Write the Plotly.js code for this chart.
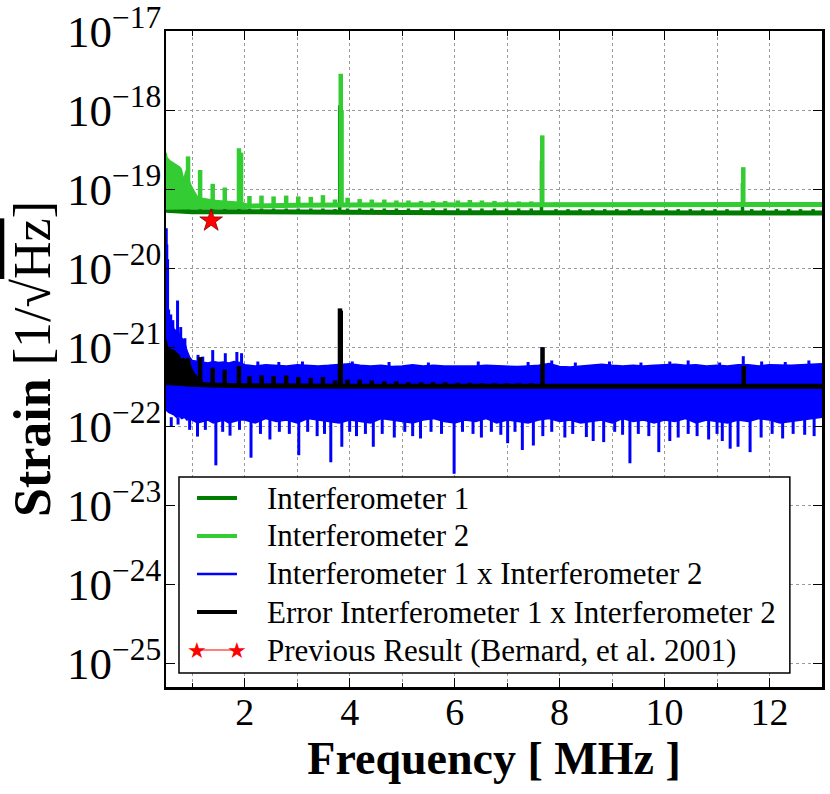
<!DOCTYPE html>
<html><head><meta charset="utf-8">
<script src="https://cdn.plot.ly/plotly-3.0.1.min.js"></script>
<style>html,body{margin:0;padding:0;background:#fff}</style>
</head><body><div id="chart" style="width:830px;height:794px"></div>
<script>
// ---------------- data ----------------
const combMHz = [0.92,1.15,1.39,1.62,1.89,2.09,2.32,2.55,2.79,3.02,3.26,3.49,3.72,3.96,4.19,4.42,4.66,4.89,5.12,5.36,5.59,5.82,6.06,6.29,6.52,6.76,6.99,7.22,7.46,7.93,8.16,8.39,8.63,8.86,9.09,9.33,9.56,9.79,10.03,10.26,10.49,10.73,10.96,11.19,11.66,11.89,12.13,12.36,12.59,12.83];

// Interferometer 1
const int1BaseMHz = [0.5,0.7,1.0,1.5,2.0,3.0,4.0,6.0,8.0,10.0,13.0];
const int1Base = [5.4e-20,5.3e-20,5.2e-20,5.2e-20,5.15e-20,5.1e-20,5.1e-20,5.05e-20,5.0e-20,5.0e-20,5.0e-20];
const int1Floor = 5.0e-20;
const int1Comb = [5.9e-20,5.8e-20,5.8e-20,5.7e-20,5.8e-20,
  5.7e-20,5.7e-20,5.7e-20,5.7e-20,5.7e-20,5.7e-20,5.7e-20,5.6e-20,5.7e-20,5.7e-20,5.7e-20,5.7e-20,5.7e-20,5.7e-20,5.7e-20,5.7e-20,5.7e-20,5.7e-20,5.7e-20,5.7e-20,5.7e-20,5.7e-20,5.7e-20,5.7e-20,
  5.6e-20,5.6e-20,5.6e-20,5.6e-20,5.6e-20,5.6e-20,5.6e-20,5.6e-20,5.6e-20,5.6e-20,5.6e-20,5.6e-20,5.6e-20,5.6e-20,5.6e-20,5.6e-20,5.6e-20,5.6e-20,5.6e-20,5.6e-20,5.6e-20];
const int1LineMHz = [3.81,7.655,11.485];
const int1Line = [1.15e-18,2.3e-19,1.2e-19];

// Interferometer 2
const int2BaseMHz = [0.5,1.0,1.5,2.0,3.0,3.8,4.5,6.0,7.6,9.0,11.0,13.0];
const int2Base = [5.9e-20,6.0e-20,6.1e-20,6.2e-20,6.25e-20,6.3e-20,6.3e-20,6.35e-20,6.4e-20,6.4e-20,6.4e-20,6.4e-20];
const int2Floor = 6.2e-20;
const int2Comb = [2.6e-19,1.75e-19,1.17e-19,1.05e-19,3.3e-19,
  8.2e-20,8.3e-20,8.1e-20,8.3e-20,8.1e-20,8.0e-20,8.4e-20,7.4e-20,7.8e-20,7.5e-20,7.4e-20,7.4e-20,7.2e-20,7.2e-20,7.1e-20,7.1e-20,7.1e-20,7.2e-20,7.3e-20,7.2e-20,7.1e-20,7.0e-20,7.0e-20,7.0e-20,
  6.8e-20,6.7e-20,6.7e-20,6.7e-20,6.7e-20,6.7e-20,6.7e-20,6.7e-20,6.7e-20,6.7e-20,6.7e-20,6.7e-20,6.7e-20,6.7e-20,6.7e-20,6.7e-20,6.7e-20,6.7e-20,6.7e-20,6.7e-20,6.7e-20];
const int2LineMHz = [1.93,3.83,3.845,7.67,11.50];
const int2Line = [2.9e-19,2.9e-18,1.0e-18,4.8e-19,1.9e-19];
const int2LeftMHz = [0.50,0.52,0.57,0.62,0.66,0.70,0.73,0.76,0.79,0.82,0.84,0.86,0.88,0.90,0.95,0.98,1.04,1.10,1.20,1.30,1.45,1.55,1.70,1.80,1.95,2.05];
const int2Left = [2.9e-19,2.5e-19,2.3e-19,2.2e-19,2.1e-19,2.05e-19,2.0e-19,1.9e-19,1.8e-19,1.5e-19,1.3e-19,1.5e-19,1.7e-19,1.5e-19,1.2e-19,1.1e-19,9.3e-20,8.0e-20,7.6e-20,7.4e-20,7.2e-20,7.1e-20,7.0e-20,7.0e-20,6.8e-20,6.4e-20];
const int2LeftFloor = 5.6e-20;

// Interferometer 1 x Interferometer 2
const blueEnvMHz = [0.50,0.55,0.60,0.65,0.70,0.75,0.80,0.85,0.90,0.95,1.0,1.1,1.2,1.3,1.4,1.5,1.6,1.7,1.8,1.9,
  2.0,2.2,2.4,2.6,2.8,3.0,3.2,3.4,3.6,3.8,4.0,4.2,4.4,4.6,4.8,5.0,5.2,5.4,5.6,5.8,6.0,6.2,6.4,6.6,6.8,7.0,7.2,7.4,7.6,7.8,
  8.0,8.2,8.4,8.6,8.8,9.0,9.2,9.4,9.6,9.8,10.0,10.2,10.4,10.6,10.8,11.0,11.2,11.4,11.6,11.8,12.0,12.2,12.4,12.6,12.8,13.0];
const blueTop = [2.5e-21,2.4e-21,2.2e-21,1.7e-21,1.6e-21,1.5e-21,1.3e-21,1.2e-21,9e-22,7.5e-22,6.8e-22,6.6e-22,6.5e-22,6.3e-22,6.6e-22,6.4e-22,6.5e-22,6.3e-22,6.6e-22,6.4e-22,
  6.0e-22,5.8e-22,6.0e-22,5.9e-22,5.8e-22,6.0e-22,5.9e-22,5.8e-22,5.9e-22,6.0e-22,6.2e-22,5.9e-22,5.8e-22,5.9e-22,5.7e-22,5.8e-22,6.0e-22,5.8e-22,5.9e-22,5.8e-22,
  5.8e-22,5.7e-22,5.8e-22,5.9e-22,5.8e-22,5.8e-22,5.7e-22,5.8e-22,5.9e-22,6.2e-22,5.7e-22,5.6e-22,5.8e-22,5.9e-22,6.1e-22,5.9e-22,5.8e-22,5.9e-22,5.8e-22,5.9e-22,
  6.0e-22,6.1e-22,5.9e-22,6.0e-22,5.8e-22,5.9e-22,5.8e-22,6.0e-22,6.0e-22,5.8e-22,6.0e-22,5.9e-22,5.9e-22,6.0e-22,6.1e-22,6.2e-22];
const blueBottom = [1.6e-22,1.5e-22,1.45e-22,1.4e-22,1.3e-22,1.35e-22,1.25e-22,1.3e-22,1.2e-22,1.25e-22,1.2e-22,1.1e-22,1.15e-22,1.2e-22,1.1e-22,1.15e-22,1.2e-22,1.1e-22,1.15e-22,1.2e-22,
  1.2e-22,1.1e-22,1.25e-22,1.15e-22,1.2e-22,1.1e-22,1.25e-22,1.2e-22,1.15e-22,1.1e-22,
  1.2e-22,1.15e-22,1.1e-22,1.25e-22,1.2e-22,1.15e-22,1.1e-22,1.2e-22,1.25e-22,1.15e-22,
  1.1e-22,1.2e-22,1.15e-22,1.25e-22,1.1e-22,1.2e-22,1.15e-22,1.1e-22,1.2e-22,1.25e-22,
  1.15e-22,1.2e-22,1.1e-22,1.15e-22,1.2e-22,1.1e-22,1.25e-22,1.15e-22,1.2e-22,1.1e-22,
  1.2e-22,1.15e-22,1.25e-22,1.1e-22,1.2e-22,1.15e-22,1.1e-22,1.2e-22,1.15e-22,1.25e-22,
  1.2e-22,1.1e-22,1.15e-22,1.2e-22,1.25e-22,1.3e-22];
const blueUpFloor = 5.0e-22;
const blueUpMHz = [0.505,0.515,0.53,0.55,0.59,0.63,0.72,0.78,0.86,1.11,1.20,1.39,1.63,1.85,1.94,2.25,2.65,3.10,3.82,4.05,4.75,5.50,6.45,7.40,7.67,7.85,8.30,8.95,9.55,10.10,10.45,11.05,11.50,11.85,12.30,12.75];
const blueUp = [3.2e-20,2.0e-20,1.3e-20,3.0e-21,2.6e-21,2.2e-21,3.9e-21,1.8e-21,1.3e-21,8.0e-22,7.6e-22,9.2e-22,8.4e-22,8.7e-22,8.4e-22,6.6e-22,6.5e-22,6.6e-22,3.0e-21,6.6e-22,6.5e-22,6.4e-22,6.6e-22,6.5e-22,1.0e-21,6.8e-22,6.4e-22,6.6e-22,6.4e-22,6.6e-22,6.8e-22,6.4e-22,7.7e-22,6.6e-22,6.5e-22,6.8e-22];
const blueDownFloor = 1.3e-22;
const blueDownMHz = [0.60,0.73,0.95,1.10,1.25,1.45,1.58,1.72,1.90,2.12,2.30,2.48,2.66,2.85,3.03,3.20,3.38,3.52,3.64,3.85,4.00,4.13,4.30,4.45,4.62,4.85,5.05,5.20,5.35,5.55,5.75,5.99,6.15,6.35,6.51,6.70,6.88,7.01,7.15,7.29,7.50,7.68,7.85,8.10,8.25,8.51,8.64,8.84,9.05,9.20,9.34,9.50,9.70,9.89,10.10,10.26,10.45,10.62,10.84,11.00,11.10,11.25,11.40,11.63,11.84,12.05,12.25,12.45,12.67,12.85];
const blueDown = [1.0e-22,1.05e-22,9e-23,7.4e-23,9e-23,3.2e-23,8.5e-23,7.6e-23,9e-23,4.0e-23,8e-23,6.8e-23,8.5e-23,8e-23,4.3e-23,8.5e-23,7.5e-23,8e-23,3.5e-23,5.5e-23,8.5e-23,7.5e-23,8e-23,5.5e-23,8e-23,7.2e-23,8.5e-23,7.5e-23,7.0e-23,8.5e-23,8e-23,2.5e-23,8.5e-23,8e-23,7.2e-23,8.5e-23,7.8e-23,6.1e-23,8.5e-23,5.0e-23,5.7e-23,7.5e-23,8.5e-23,7.2e-23,8e-23,7.3e-23,6.5e-23,6.3e-23,8.5e-23,7.8e-23,3.4e-23,8e-23,7.5e-23,4.7e-23,6.5e-23,7.2e-23,8e-23,7.5e-23,6.8e-23,8e-23,6.5e-23,5.2e-23,5.5e-23,4.7e-23,7.2e-23,8e-23,7e-23,8e-23,7.8e-23,7.5e-23];

// Error Interferometer 1 x Interferometer 2
const errBaseMHz = [0.5,0.7,1.0,1.5,2.0,4.0,8.0,13.0];
const errBase = [3.6e-22,3.5e-22,3.4e-22,3.3e-22,3.25e-22,3.2e-22,3.2e-22,3.2e-22];
const errFloor = 3.2e-22;
const errComb = [7.2e-22,7.5e-22,5.5e-22,5.2e-22,5.8e-22,
  4.3e-22,4.4e-22,4.3e-22,4.4e-22,4.2e-22,4.1e-22,4.2e-22,3.8e-22,3.9e-22,3.9e-22,3.8e-22,3.7e-22,3.7e-22,3.6e-22,3.6e-22,3.6e-22,3.6e-22,3.55e-22,3.55e-22,3.5e-22,3.5e-22,3.5e-22,3.5e-22,3.5e-22,
  3.4e-22,3.4e-22,3.4e-22,3.4e-22,3.4e-22,3.4e-22,3.4e-22,3.4e-22,3.4e-22,3.4e-22,3.4e-22,3.4e-22,3.4e-22,3.4e-22,3.4e-22,3.4e-22,3.4e-22,3.4e-22,3.4e-22,3.4e-22,3.4e-22];
const errLineMHz = [3.815,3.83,7.675,11.51];
const errLine = [3.1e-21,2.9e-21,1.0e-21,5.8e-22];
const errLeftMHz = [0.50,0.53,0.57,0.62,0.66,0.70,0.74,0.79,0.83,0.87,0.92,0.98,1.05,1.10,1.20];
const errLeft = [1.25e-21,1.0e-21,9.5e-22,9.3e-22,9.0e-22,8.4e-22,8.0e-22,6.9e-22,7.2e-22,7.0e-22,7.2e-22,5.5e-22,4.5e-22,4.2e-22,3.8e-22];
const errLeftFloor = 3.3e-22;

// Previous result
const prevMHz = [1.36];
const prevStrain = [4.0e-20];

const legendNames = ['Interferometer 1','Interferometer 2','Interferometer 1 x Interferometer 2','Error Interferometer 1 x Interferometer 2','Previous Result (Bernard, et al. 2001)'];

// ---------------- drawing ----------------
const C1 = '#007c00', C2 = '#33cc33', CB = '#0000ff', CK = '#000000', CR = '#ff0000';
function segs(xs, ys, floor) {
  const X = [], Y = [];
  for (let i = 0; i < xs.length; i++) { X.push(xs[i], xs[i], null); Y.push(floor, ys[i], null); }
  return {x: X, y: Y};
}
const s1 = segs(int1LineMHz.concat(combMHz), int1Line.concat(int1Comb), int1Floor);
const s2 = segs(combMHz.concat(int2LineMHz), int2Comb.concat(int2Line), int2Floor);
const sBu = segs(blueUpMHz, blueUp, blueUpFloor);
const sBd = segs(blueDownMHz, blueDown, blueDownFloor);
const sK = segs(combMHz.concat(errLineMHz), errComb.concat(errLine), errFloor);
const first = a => a[0], last = a => a[a.length - 1];

const traces = [
  {x: int1BaseMHz, y: int1Base, mode: 'lines', name: legendNames[0], line: {color: C1, width: 5}},
  {x: s1.x, y: s1.y, mode: 'lines', line: {color: C1, width: 3.5}, hoverinfo: 'skip'},
  {x: [first(int2LeftMHz), last(int2LeftMHz)], y: [int2LeftFloor, int2LeftFloor], mode: 'lines', line: {color: C2, width: 0}, hoverinfo: 'skip'},
  {x: int2LeftMHz, y: int2Left, mode: 'lines', fill: 'tonexty', fillcolor: C2, line: {color: C2, width: 1.5}, hoverinfo: 'skip'},
  {x: int2BaseMHz, y: int2Base, mode: 'lines', name: legendNames[1], line: {color: C2, width: 5}},
  {x: s2.x, y: s2.y, mode: 'lines', line: {color: C2, width: 4.5}, hoverinfo: 'skip'},
  {x: blueEnvMHz, y: blueBottom, mode: 'lines', line: {color: CB, width: 1.5}, hoverinfo: 'skip'},
  {x: blueEnvMHz, y: blueTop, mode: 'lines', fill: 'tonexty', fillcolor: CB, line: {color: CB, width: 1.5}, hoverinfo: 'skip'},
  {x: sBu.x, y: sBu.y, mode: 'lines', line: {color: CB, width: 3}, hoverinfo: 'skip'},
  {x: sBd.x, y: sBd.y, mode: 'lines', name: legendNames[2], line: {color: CB, width: 3}},
  {x: [first(errLeftMHz), last(errLeftMHz)], y: [errLeftFloor, errLeftFloor], mode: 'lines', line: {color: CK, width: 0}, hoverinfo: 'skip'},
  {x: errLeftMHz, y: errLeft, mode: 'lines', fill: 'tonexty', fillcolor: CK, line: {color: CK, width: 1.5}, hoverinfo: 'skip'},
  {x: errBaseMHz, y: errBase, mode: 'lines', name: legendNames[3], line: {color: CK, width: 5}},
  {x: sK.x, y: sK.y, mode: 'lines', line: {color: CK, width: 4.5}, hoverinfo: 'skip'},
  {x: prevMHz, y: prevStrain, mode: 'markers', name: legendNames[4],
   marker: {symbol: 'star', size: 17, color: CR, line: {color: '#8a0000', width: 0.8}}}
];

// ---- hand-built legend box (paper coordinates of the plot area) ----
const serif = 'Liberation Serif, Times New Roman, serif';
const legBox = {x0: 0.0198, x1: 0.951, y0: 0.0213, y1: 0.3201};
const legRowY = [0.2881, 0.2302, 0.1723, 0.1143, 0.0564];
const legLineX = [0.0473, 0.1082];
const legTextX = 0.1509;
const legStyles = [{c: C1, w: 4}, {c: C2, w: 4}, {c: CB, w: 2.5}, {c: CK, w: 4}, {c: CR, w: 1.2}];
const shapes = [{type: 'rect', xref: 'paper', yref: 'paper', x0: legBox.x0, x1: legBox.x1, y0: legBox.y0, y1: legBox.y1,
  line: {color: '#000', width: 1.5}, fillcolor: '#fff', layer: 'above'}];
const annotations = [];
legendNames.forEach((nm, i) => {
  shapes.push({type: 'line', xref: 'paper', yref: 'paper', x0: legLineX[0], x1: legLineX[1], y0: legRowY[i], y1: legRowY[i],
    line: {color: legStyles[i].c, width: legStyles[i].w}, layer: 'above'});
  annotations.push({xref: 'paper', yref: 'paper', x: legTextX, y: legRowY[i], xanchor: 'left', yanchor: 'middle', showarrow: false,
    text: nm, font: {family: serif, size: 31, color: '#000'}});
});
legLineX.forEach(px => annotations.push({xref: 'paper', yref: 'paper', x: px, y: legRowY[4], xanchor: 'center', yanchor: 'middle',
  showarrow: false, text: '★', font: {family: 'DejaVu Sans', size: 22, color: CR}}));

const grid = {showgrid: true, gridcolor: '#9a9a9a', griddash: 'dot', gridwidth: 1};
const layout = {
  width: 830, height: 794,
  margin: {l: 166, r: 8, t: 31, b: 107},
  paper_bgcolor: '#fff', plot_bgcolor: '#fff',
  showlegend: false,
  font: {family: serif, color: '#000'},
  shapes: shapes, annotations: annotations,
  xaxis: Object.assign({
    range: [0.5, 13], tick0: 0, dtick: 2, ticks: 'inside', ticklen: 9, tickwidth: 1.2, tickcolor: '#000',
    showline: true, linewidth: 2.5, linecolor: '#000', mirror: 'allticks', zeroline: false,
    tickfont: {family: serif, size: 38, color: '#000'}, ticklabelstandoff: -10,
    minor: {dtick: 1, ticks: 'inside', ticklen: 4.5, tickcolor: '#000', tickwidth: 1, showgrid: true, gridcolor: '#9a9a9a', griddash: 'dot', gridwidth: 1},
    title: {text: '<b>Frequency [ MHz ]</b>', font: {family: serif, size: 46, color: '#000'}, standoff: 2}
  }, grid),
  yaxis: Object.assign({
    type: 'log', range: [-25.3, -16.998], dtick: 1, exponentformat: 'power',
    ticks: 'inside', ticklen: 9, tickwidth: 1.2, tickcolor: '#000',
    showline: true, linewidth: 2.5, linecolor: '#000', mirror: 'allticks', zeroline: false,
    tickfont: {family: serif, size: 36, color: '#000'}, ticklabelstandoff: -5, ticklabeloverflow: 'allow',
    title: {text: '<b>Strain</b> [1/√<span style="text-decoration:overline">Hz</span>]', font: {family: serif, size: 52, color: '#000'}, standoff: 0}
  }, grid)
};
Plotly.newPlot('chart', traces, layout, {displayModeBar: false, staticPlot: true});
</script></body></html>
